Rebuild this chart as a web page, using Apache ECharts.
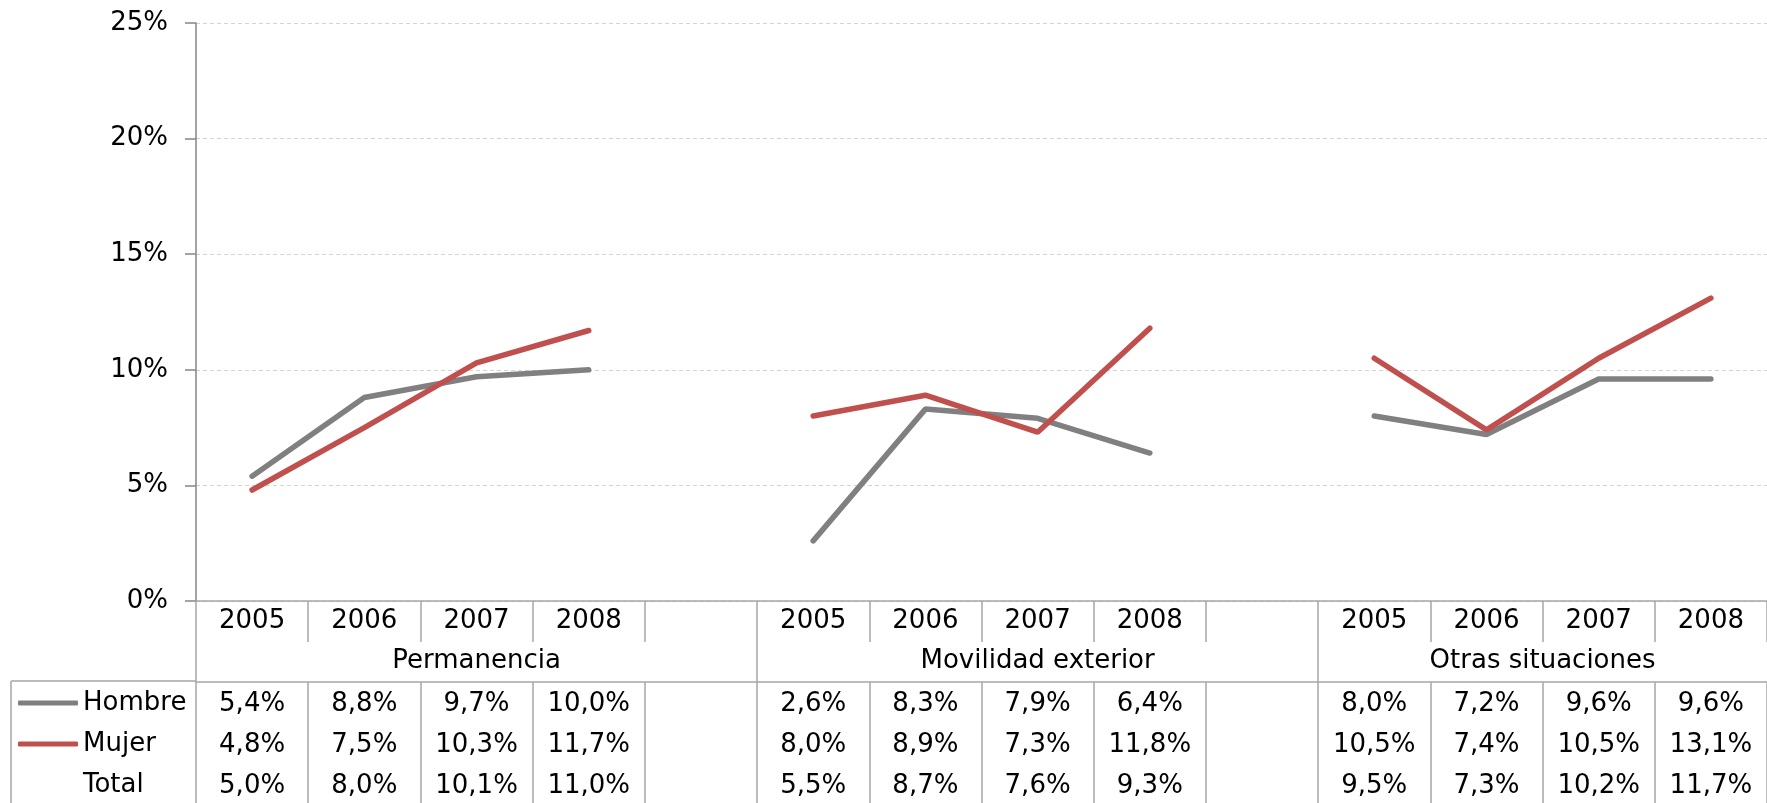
<!DOCTYPE html>
<html><head><meta charset="utf-8">
<script src="https://cdn.jsdelivr.net/npm/echarts@6/dist/echarts.min.js"></script>
<style>html,body{margin:0;padding:0;background:#fff}#c{width:1767px;height:803px}</style>
</head><body><div id="c"></div>
<script>
// ---- data ----
const groups = ['Permanencia', 'Movilidad exterior', 'Otras situaciones'];
const groupSizes = [5, 5, 4];
const years = ['2005','2006','2007','2008','', '2005','2006','2007','2008','', '2005','2006','2007','2008'];
const hombre = [5.4, 8.8, 9.7, 10.0, null, 2.6, 8.3, 7.9, 6.4, null, 8.0, 7.2, 9.6, 9.6];
const mujer  = [4.8, 7.5, 10.3, 11.7, null, 8.0, 8.9, 7.3, 11.8, null, 10.5, 7.4, 10.5, 13.1];
const total  = [5.0, 8.0, 10.1, 11.0, null, 5.5, 8.7, 7.6, 9.3, null, 9.5, 7.3, 10.2, 11.7];
const yTicks = [0, 5, 10, 15, 20, 25];

// ---- derived ----
const FONT = 'DejaVu Sans';
const FS = 26;
const nSlots = groupSizes.reduce((a, b) => a + b, 0);
const groupStarts = [];
const groupCenters = [];
let acc = 0;
groupSizes.forEach(s => { groupStarts.push(acc); groupCenters.push(acc + s / 2); acc += s; });
const fmt = v => v == null ? '' : v.toFixed(1).replace('.', ',') + '%';
const LINE = '#a6a6a6';
const txt = {fontFamily: FONT, fontSize: FS, color: '#000'};

function rowAxis(vals, offset) {
  return {
    type: 'category', data: vals.map(fmt), position: 'bottom', offset: offset,
    boundaryGap: true,
    axisLine: {show: false, onZero: false}, axisTick: {show: false}, splitLine: {show: false},
    axisLabel: Object.assign({interval: 0, margin: 0, verticalAlign: 'middle'}, txt)
  };
}

const chart = echarts.init(document.getElementById('c'), null, {renderer: 'canvas'});
chart.setOption({
  animation: false,
  backgroundColor: '#fff',
  grid: {left: 196, right: -7, top: 23, bottom: 202, containLabel: false},
  yAxis: {
    type: 'value', min: yTicks[0], max: yTicks[yTicks.length - 1], interval: 5,
    axisLine: {show: true, lineStyle: {color: '#868686', width: 1.5}},
    axisTick: {show: true, length: 11, lineStyle: {color: '#868686', width: 1.5}},
    axisLabel: Object.assign({margin: 28, formatter: v => v + '%'}, txt),
    splitLine: {show: true, lineStyle: {color: '#d4d4d4', width: 1, type: [4, 3]}}
  },
  xAxis: [
    { // year row
      type: 'category', data: years, position: 'bottom', boundaryGap: true,
      axisLine: {show: true, onZero: false, lineStyle: {color: LINE, width: 1.5}},
      axisTick: {show: true, interval: 0, length: 41, lineStyle: {color: LINE, width: 1.5}},
      axisLabel: Object.assign({interval: 0, margin: 7}, txt),
      splitLine: {show: false}
    },
    { // group row
      type: 'value', min: 0, max: nSlots, position: 'bottom',
      axisLine: {show: false, onZero: false},
      axisTick: {show: true, customValues: groupStarts, length: 81, lineStyle: {color: LINE, width: 1.5}},
      axisLabel: Object.assign({
        customValues: groupCenters, margin: 47,
        formatter: v => { const i = groupCenters.indexOf(v); return i >= 0 ? groups[i] : ''; }
      }, txt),
      splitLine: {show: false}
    },
    { // table grid lines
      type: 'category', data: years, position: 'bottom', offset: 81, boundaryGap: true,
      axisLine: {show: true, onZero: false, lineStyle: {color: LINE, width: 1.5}},
      axisTick: {show: true, interval: 0, length: 122, lineStyle: {color: LINE, width: 1.5}},
      axisLabel: {show: false}, splitLine: {show: false}
    },
    rowAxis(hombre, 103),
    rowAxis(mujer, 144),
    rowAxis(total, 185)
  ],
  legend: {
    orient: 'vertical', left: 13, top: 685, itemWidth: 60, itemHeight: 5, itemGap: 15,
    icon: 'roundRect', selectedMode: false,
    textStyle: {fontFamily: FONT, fontSize: FS, color: '#000'},
    data: [{name: 'Hombre'}, {name: 'Mujer'}, {name: 'Total', icon: 'none'}]
  },
  graphic: [
    {type: 'line', shape: {x1: 11, y1: 681, x2: 196, y2: 681}, style: {stroke: LINE, lineWidth: 1.5}},
    {type: 'line', shape: {x1: 11, y1: 681, x2: 11, y2: 803}, style: {stroke: LINE, lineWidth: 1.5}}
  ],
  series: [
    {name: 'Hombre', type: 'line', xAxisIndex: 0, data: hombre, symbol: 'none', connectNulls: false,
     itemStyle: {color: '#808080'}, lineStyle: {color: '#808080', width: 5.5, cap: 'round'}},
    {name: 'Mujer', type: 'line', xAxisIndex: 0, data: mujer, symbol: 'none', connectNulls: false,
     itemStyle: {color: '#c0504d'}, lineStyle: {color: '#c0504d', width: 5.5, cap: 'round'}},
    {name: 'Total', type: 'line', xAxisIndex: 0, data: total, symbol: 'none', connectNulls: false,
     itemStyle: {color: '#000', opacity: 0}, lineStyle: {opacity: 0, width: 0}, silent: true}
  ]
});
</script></body></html>
